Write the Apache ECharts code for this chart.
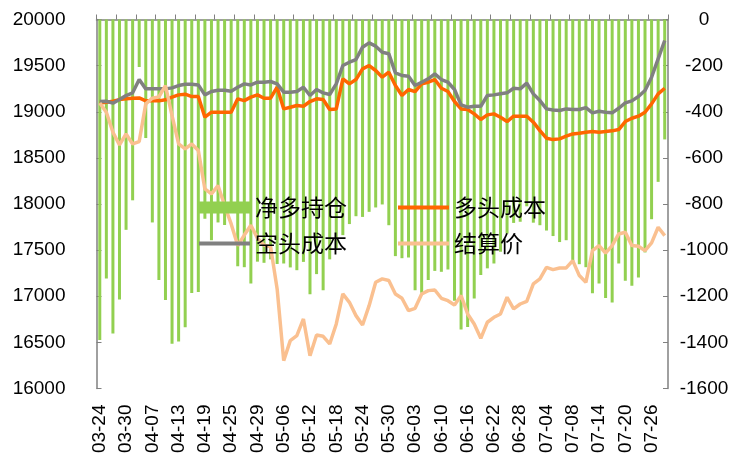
<!DOCTYPE html>
<html>
<head>
<meta charset="utf-8">
<script src="https://cdn.jsdelivr.net/npm/echarts@6/dist/echarts.min.js"></script>
<style>
html, body { margin: 0; padding: 0; background: #fff; }
#chart { width: 748px; height: 458px; }
</style>
</head>
<body>
<div id="chart"></div>
<script>
// 日期（交易日）
const dates = ['03-24','03-25','03-28','03-29','03-30','03-31','04-01','04-06','04-07','04-08',
  '04-11','04-12','04-13','04-14','04-15','04-18','04-19','04-20','04-21','04-22',
  '04-25','04-26','04-27','04-28','04-29','05-03','05-04','05-05','05-06','05-09',
  '05-10','05-11','05-12','05-13','05-16','05-17','05-18','05-19','05-20','05-23',
  '05-24','05-25','05-26','05-27','05-30','05-31','06-01','06-02','06-03','06-07',
  '06-08','06-09','06-10','06-13','06-14','06-15','06-16','06-17','06-20','06-21',
  '06-22','06-23','06-24','06-27','06-28','06-29','06-30','07-01','07-04','07-05',
  '07-06','07-07','07-08','07-11','07-12','07-13','07-14','07-15','07-18','07-19',
  '07-20','07-21','07-22','07-25','07-26','07-27','07-28']

// 净多持仓（右轴）
const netLong = [-1390, -1123, -1361, -1214, -912, -784, -206, -514, -880, -1130,
  -1216, -1406, -1396, -1334, -1186, -1182, -864, -957, -880, -891,
  -810, -1070, -1074, -1145, -1050, -1055, -1040, -1060, -1058, -1075,
  -1087, -1051, -1191, -1104, -1174, -1040, -993, -935, -887, -853,
  -856, -834, -815, -802, -892, -1026, -1035, -1032, -1174, -1185,
  -1130, -1090, -1094, -1084, -1220, -1344, -1333, -1210, -1108, -1079,
  -1058, -1007, -928, -882, -877, -810, -881, -892, -915, -939,
  -965, -957, -1048, -1061, -1074, -1187, -1145, -1208, -1227, -1058,
  -1133, -1154, -1119, -1010, -866, -704, -520]

// 多头成本
const longCost = [19096, 19103, 19114, 19132, 19140, 19147, 19150, 19118, 19118, 19118,
  19129, 19158, 19183, 19190, 19165, 19165, 18941, 18995, 18995, 18995,
  18995, 19140, 19121, 19158, 19183, 19147, 19147, 19266, 19031, 19049,
  19067, 19060, 19111, 19140, 19132, 19024, 19031, 19356, 19302, 19349,
  19465, 19501, 19447, 19375, 19429, 19284, 19176, 19241, 19219, 19302,
  19320, 19349, 19255, 19219, 19111, 19031, 19024, 18977, 18916, 18966,
  18977, 18941, 18894, 18952, 18952, 18952, 18887, 18796, 18713, 18698,
  18706, 18735, 18760, 18767, 18778, 18785, 18778, 18785, 18793, 18807,
  18894, 18930, 18952, 18995, 19085, 19194, 19255]

// 空头成本
const shortCost = [19111, 19114, 19093, 19132, 19176, 19205, 19349, 19248, 19248, 19248,
  19248, 19259, 19284, 19299, 19299, 19291, 19183, 19219, 19234, 19234,
  19223, 19266, 19302, 19291, 19320, 19320, 19328, 19302, 19212, 19212,
  19219, 19266, 19176, 19241, 19205, 19187, 19302, 19501, 19537, 19566,
  19700, 19747, 19711, 19645, 19628, 19422, 19393, 19386, 19284, 19320,
  19357, 19411, 19349, 19320, 19241, 19075, 19049, 19060, 19060, 19176,
  19183, 19194, 19205, 19255, 19248, 19310, 19194, 19121, 19031, 19020,
  19013, 19031, 19024, 19024, 19045, 18988, 19006, 18995, 18988, 19038,
  19096, 19118, 19165, 19230, 19375, 19573, 19772]

// 结算价
const settle = [19096, 18995, 18778, 18640, 18760, 18651, 18677, 19085, 19147, 19161,
  19284, 18959, 18651, 18597, 18651, 18579, 18163, 18109, 18200, 17983,
  17784, 17550, 17663, 17770, 17630, 17554, 17536, 17079, 16302, 16519,
  16573, 16754, 16356, 16580, 16566, 16483, 16700, 17025, 16934, 16790,
  16689, 16898, 17151, 17188, 17170, 17025, 16978, 16844, 16869, 17025,
  17061, 17068, 16978, 16952, 16906, 17007, 16808, 16699, 16544, 16718,
  16772, 16808, 16989, 16862, 16916, 16945, 17133, 17188, 17314, 17289,
  17307, 17307, 17386, 17224, 17151, 17495, 17549, 17469, 17549, 17675,
  17694, 17549, 17542, 17495, 17578, 17748, 17657]

const axisGray = '#808080'
const labelFont = { color: '#000', fontSize: 19, fontFamily: 'Liberation Sans, Arial, sans-serif' }
const legendText = { color: '#000', fontSize: 23, fontFamily: 'Noto Sans CJK SC', padding: [8, 0, 0, 0] }
const lineIcon = 'path://M0,0H51V4H0Z'

const chart = echarts.init(document.getElementById('chart'))
chart.setOption({
  animation: false,
  backgroundColor: '#fff',
  grid: { left: 96.5, right: 80, top: 19.5, bottom: 69.5 },
  legend: [
    {
      data: [{ name: '净多持仓', icon: 'rect' }, { name: '多头成本', icon: lineIcon }],
      left: 194, top: 191,
      itemWidth: 51, itemHeight: 12, itemGap: 51,
      textStyle: legendText
    },
    {
      data: [{ name: '空头成本', icon: lineIcon }, { name: '结算价', icon: lineIcon }],
      left: 194, top: 227,
      itemWidth: 51, itemHeight: 12, itemGap: 51,
      textStyle: legendText
    }
  ],
  xAxis: {
    type: 'category',
    data: dates,
    boundaryGap: true,
    axisLine: { lineStyle: { color: axisGray, width: 1.5 } },
    axisTick: { show: true, inside: true, length: 5, interval: 2, lineStyle: { color: axisGray } },
    axisLabel: Object.assign({ interval: 3, rotate: 90, margin: 16 }, labelFont),
    splitLine: { show: false }
  },
  yAxis: [
    {
      type: 'value',
      min: 16000, max: 20000, interval: 500,
      axisLine: { show: true, lineStyle: { color: axisGray, width: 1.5 } },
      axisTick: { show: true, inside: true, length: 5, lineStyle: { color: axisGray } },
      axisLabel: Object.assign({ margin: 31, formatter: v => String(v) }, labelFont),
      splitLine: { show: false }
    },
    {
      type: 'value',
      position: 'right',
      min: -1600, max: 0, interval: 200,
      axisLine: { show: true, lineStyle: { color: axisGray, width: 1.5 } },
      axisTick: { show: true, inside: true, length: 5, lineStyle: { color: axisGray } },
      axisLabel: Object.assign({ margin: 36, align: 'center', formatter: v => String(v) }, labelFont),
      splitLine: { show: false }
    }
  ],
  series: [
    {
      name: '净多持仓',
      type: 'bar',
      yAxisIndex: 1,
      data: netLong,
      barWidth: 3,
      itemStyle: { color: '#92D050' }
    },
    {
      name: '多头成本',
      type: 'line',
      data: longCost,
      symbol: 'none',
      lineStyle: { color: '#FF6600', width: 3.5 },
      itemStyle: { color: '#FF6600' }
    },
    {
      name: '空头成本',
      type: 'line',
      data: shortCost,
      symbol: 'none',
      lineStyle: { color: '#808080', width: 3.5 },
      itemStyle: { color: '#808080' }
    },
    {
      name: '结算价',
      type: 'line',
      data: settle,
      symbol: 'none',
      lineStyle: { color: '#FAC090', width: 3.5 },
      itemStyle: { color: '#FAC090' }
    }
  ]
})
</script>
</body>
</html>
